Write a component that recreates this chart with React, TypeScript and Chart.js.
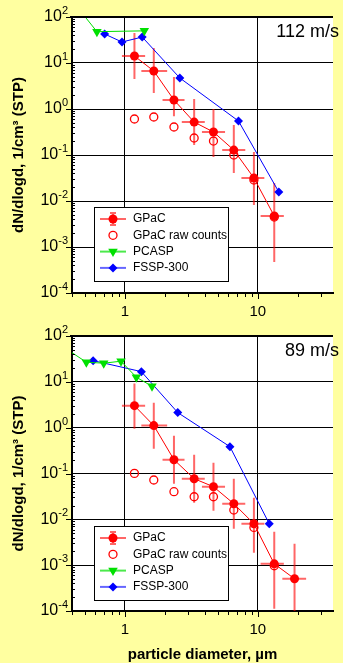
import React, { useEffect, useRef } from 'react';
import { Chart, registerables } from 'chart.js';

Chart.register(...registerables);

const FONT = "'Liberation Sans', Arial, Helvetica, sans-serif";
const BG = '#FFFFA0';
const RED = '#FF0000';
const GREEN = '#00E000';
const BLUE = '#0000FF';
const ERR = 'rgba(255,0,0,0.6)';

const speedLabels = ['112 m/s', '89 m/s'];
const legendLabels = ['GPaC', 'GPaC raw counts', 'PCASP', 'FSSP-300'];
const yAxisTitle = 'dN/dlogd, 1/cm³ (STP)';
const xAxisTitle = 'particle diameter, µm';
const xTickLabels = [1, 10];
const yDecades = [-4, -3, -2, -1, 0, 1, 2];

// ---------- panel 1 : 112 m/s ----------
const gpacD1 = [1.18, 1.65, 2.34, 3.32, 4.64, 6.6, 9.35, 13.3];
const gpacN1 = [14.2, 6.7, 1.57, 0.52, 0.316, 0.128, 0.0316, 0.00472];
const gpacHi1 = [44.9, 21.2, 4.96, 1.65, 1.0, 0.449, 0.116, 0.0246];
const gpacLo1 = [4.49, 2.23, 0.7, 0.165, 0.0905, 0.0406, 0.00818, 0.000472];
const gpacDLo1 = [0.95, 1.33, 1.92, 2.68, 3.8, 5.4, 7.53, 10.5];
const gpacDHi1 = [1.42, 2.08, 2.81, 3.99, 5.67, 8.05, 11.2, 15.7];
const rawD1 = [1.18, 1.65, 2.34, 3.32, 4.64, 6.6, 9.35, 13.3];
const rawN1 = [0.606, 0.67, 0.406, 0.234, 0.201, 0.1, 0.0286, 0.00449];
const pcaspD1 = [0.45, 0.616, 1.4];
const pcaspN1 = [150, 48, 50];
const fsspD1 = [0.704, 0.951, 1.35, 2.59, 7.16, 14.4];
const fsspN1 = [42.7, 28.6, 36.7, 4.72, 0.548, 0.0157];

// ---------- panel 2 : 89 m/s ----------
const gpacD2 = [1.18, 1.65, 2.34, 3.32, 4.64, 6.6, 9.35, 13.3, 18.9];
const gpacN2 = [3.02, 1.11, 0.2, 0.077, 0.0515, 0.0219, 0.008, 0.00107, 0.000505];
const gpacHi2 = [9.14, 3.51, 0.669, 0.257, 0.172, 0.077, 0.0296, 0.00536, 0.00293];
const gpacLo2 = [0.95, 0.348, 0.06, 0.023, 0.0154, 0.00624, 0.00187, 0.000112, 0.00008];
const gpacDLo2 = [0.95, 1.33, 1.92, 2.68, 3.8, 5.4, 7.53, 10.5, 15.3];
const gpacDHi2 = [1.42, 2.08, 2.81, 3.99, 5.67, 8.05, 11.2, 15.7, 23.1];
const rawD2 = [1.18, 1.65, 2.34, 3.32, 4.64, 6.6, 9.35, 13.3];
const rawN2 = [0.1005, 0.0721, 0.0401, 0.0311, 0.0311, 0.016, 0.00665, 0.00097];
const pcaspD2 = [0.35, 0.513, 0.693, 0.935, 1.22, 1.6];
const pcaspN2 = [56, 26.8, 25.5, 28.2, 12.6, 8.0];
const fsspD2 = [0.577, 1.33, 2.5, 6.17, 12.2];
const fsspN2 = [29.0, 16.7, 2.13, 0.385, 0.008];

interface Panel {
  key: string;
  speed: string;
  padTop: number;
  xAxisHeight: number;
  showXTitle: boolean;
  gD: number[]; gN: number[]; gHi: number[]; gLo: number[]; gDLo: number[]; gDHi: number[];
  rD: number[]; rN: number[];
  pD: number[]; pN: number[];
  fD: number[]; fN: number[];
}

const panel1: Panel = {
  key: 'p1', speed: speedLabels[0], padTop: 17, xAxisHeight: 27, showXTitle: false,
  gD: gpacD1, gN: gpacN1, gHi: gpacHi1, gLo: gpacLo1, gDLo: gpacDLo1, gDHi: gpacDHi1,
  rD: rawD1, rN: rawN1, pD: pcaspD1, pN: pcaspN1, fD: fsspD1, fN: fsspN1,
};
const panel2: Panel = {
  key: 'p2', speed: speedLabels[1], padTop: 16, xAxisHeight: 52, showXTitle: true,
  gD: gpacD2, gN: gpacN2, gHi: gpacHi2, gLo: gpacLo2, gDLo: gpacDLo2, gDHi: gpacDHi2,
  rD: rawD2, rN: rawN2, pD: pcaspD2, pN: pcaspN2, fD: fsspD2, fN: fsspN2,
};

function isDecade(v: number) {
  if (!(v > 0)) return false;
  const l = Math.log10(v);
  return Math.abs(l - Math.round(l)) < 1e-6;
}
function isIntMantissa(v: number) {
  if (!(v > 0)) return false;
  const e = Math.floor(Math.log10(v) + 1e-9);
  const m = v / Math.pow(10, e);
  return Math.abs(m - Math.round(m)) < 1e-6;
}
function pts(xs: number[], ys: number[]) {
  return xs.map((x, i) => ({ x, y: ys[i] }));
}

function decoPlugin(p: Panel) {
  return {
    id: 'deco' + p.key,
    beforeDraw(chart: any) {
      const { ctx, chartArea: a, width, height } = chart;
      ctx.save();
      ctx.fillStyle = BG;
      ctx.fillRect(0, 0, width, height);
      ctx.fillStyle = '#FFFFFF';
      ctx.fillRect(a.left, a.top, a.right - a.left, a.bottom - a.top);
      ctx.restore();
    },
    beforeDatasetsDraw(chart: any) {
      const { ctx, chartArea: a, scales } = chart;
      const xs = scales.x, ys = scales.y;
      ctx.save();
      ctx.beginPath();
      ctx.rect(a.left, a.top, a.right - a.left, a.bottom - a.top);
      ctx.clip();
      ctx.strokeStyle = ERR;
      ctx.lineWidth = 2;
      p.gD.forEach((d, i) => {
        const x = xs.getPixelForValue(d);
        const y = ys.getPixelForValue(p.gN[i]);
        ctx.beginPath();
        ctx.moveTo(x, ys.getPixelForValue(p.gHi[i]));
        ctx.lineTo(x, ys.getPixelForValue(p.gLo[i]));
        ctx.moveTo(xs.getPixelForValue(p.gDLo[i]), y);
        ctx.lineTo(xs.getPixelForValue(p.gDHi[i]), y);
        ctx.stroke();
      });
      ctx.restore();
    },
    afterDraw(chart: any) {
      const { ctx, chartArea: a, scales } = chart;
      const xs = scales.x, ys = scales.y;
      ctx.save();
      // tick marks
      ctx.strokeStyle = '#000';
      ctx.lineWidth = 1;
      ctx.beginPath();
      ys.ticks.forEach((t: any) => {
        const v = t.value;
        if (!isIntMantissa(v)) return;
        const py = Math.round(ys.getPixelForValue(v)) + 0.5;
        if (isDecade(v)) {
          ctx.moveTo(a.left - 6, py);
          ctx.lineTo(a.left, py);
        } else {
          ctx.moveTo(a.left, py);
          ctx.lineTo(a.left + 3, py);
        }
      });
      xs.ticks.forEach((t: any) => {
        const v = t.value;
        if (!isIntMantissa(v)) return;
        const px = Math.round(xs.getPixelForValue(v)) + 0.5;
        ctx.moveTo(px, a.bottom);
        ctx.lineTo(px, a.bottom + (isDecade(v) ? 6 : 4));
      });
      ctx.stroke();
      // top border
      ctx.lineWidth = 2;
      ctx.beginPath();
      ctx.moveTo(a.left - 2, a.top);
      ctx.lineTo(a.right, a.top);
      ctx.stroke();

      // y tick labels 10^k
      ctx.fillStyle = '#000';
      ctx.textAlign = 'right';
      ctx.textBaseline = 'middle';
      yDecades.forEach((k) => {
        const py = ys.getPixelForValue(Math.pow(10, k));
        const exp = String(k);
        ctx.font = `11px ${FONT}`;
        const ew = ctx.measureText(exp).width;
        ctx.fillText(exp, 68, py - 6);
        ctx.font = `16px ${FONT}`;
        ctx.fillText('10', 68 - ew, py);
      });

      // speed label
      ctx.font = `18px ${FONT}`;
      ctx.textAlign = 'right';
      ctx.fillText(p.speed, 339, a.top + 15);

      // legend
      const lx = 94, lw = 134, lh = 74, ly = a.top + 190;
      ctx.fillStyle = '#FFFFFF';
      ctx.fillRect(lx, ly, lw, lh);
      ctx.strokeStyle = '#000';
      ctx.lineWidth = 1;
      ctx.strokeRect(lx + 0.5, ly + 0.5, lw, lh);
      const sx = 113;
      legendLabels.forEach((lab, i) => {
        const ry = ly + 12 + i * 16.3;
        if (i === 0) {
          ctx.strokeStyle = ERR;
          ctx.lineWidth = 2;
          ctx.beginPath();
          ctx.moveTo(100, ry); ctx.lineTo(126, ry);
          ctx.moveTo(sx, ry - 6); ctx.lineTo(sx, ry + 6);
          ctx.moveTo(sx - 3, ry - 6); ctx.lineTo(sx + 3, ry - 6);
          ctx.moveTo(sx - 3, ry + 6); ctx.lineTo(sx + 3, ry + 6);
          ctx.stroke();
          ctx.fillStyle = RED;
          ctx.beginPath(); ctx.arc(sx, ry, 4.5, 0, Math.PI * 2); ctx.fill();
        } else if (i === 1) {
          ctx.strokeStyle = RED;
          ctx.lineWidth = 1.3;
          ctx.beginPath(); ctx.arc(sx, ry, 4, 0, Math.PI * 2); ctx.stroke();
        } else if (i === 2) {
          ctx.strokeStyle = 'rgba(0,224,0,0.7)';
          ctx.lineWidth = 2;
          ctx.beginPath(); ctx.moveTo(100, ry); ctx.lineTo(126, ry); ctx.stroke();
          const r = 5.5;
          ctx.fillStyle = GREEN;
          ctx.beginPath();
          ctx.moveTo(sx, ry + r);
          ctx.lineTo(sx - r * 0.866, ry - r / 2);
          ctx.lineTo(sx + r * 0.866, ry - r / 2);
          ctx.closePath();
          ctx.fill();
        } else {
          ctx.strokeStyle = 'rgba(0,0,255,0.6)';
          ctx.lineWidth = 2;
          ctx.beginPath(); ctx.moveTo(100, ry); ctx.lineTo(126, ry); ctx.stroke();
          const r = 4.5;
          ctx.fillStyle = BLUE;
          ctx.beginPath();
          ctx.moveTo(sx, ry - r); ctx.lineTo(sx + r, ry); ctx.lineTo(sx, ry + r); ctx.lineTo(sx - r, ry);
          ctx.closePath();
          ctx.fill();
        }
        ctx.fillStyle = '#000';
        ctx.font = `12px ${FONT}`;
        ctx.textAlign = 'left';
        ctx.textBaseline = 'middle';
        ctx.fillText(lab, 133, ry);
      });
      ctx.restore();
    },
  };
}

function gridColor(c: any) {
  return c.tick && isDecade(c.tick.value) ? '#000000' : 'rgba(0,0,0,0)';
}

function makeConfig(p: Panel): any {
  return {
    type: 'scatter',
    data: {
      datasets: [
        {
          label: legendLabels[0], data: pts(p.gD, p.gN), showLine: true,
          borderColor: RED, borderWidth: 1, pointRadius: 4.5,
          pointBackgroundColor: RED, pointBorderColor: RED, pointBorderWidth: 0,
          order: 0, clip: 0,
        },
        {
          label: legendLabels[1], data: pts(p.rD, p.rN), showLine: false,
          pointRadius: 4, pointBackgroundColor: 'rgba(0,0,0,0)', pointBorderColor: RED,
          pointBorderWidth: 1.3, order: 1, clip: 0,
        },
        {
          label: legendLabels[2], data: pts(p.pD, p.pN), showLine: true,
          borderColor: GREEN, borderWidth: 1, pointStyle: 'triangle', pointRotation: 180,
          pointRadius: 5.5, pointBackgroundColor: GREEN, pointBorderColor: GREEN,
          pointBorderWidth: 0, order: 2, clip: 0,
        },
        {
          label: legendLabels[3], data: pts(p.fD, p.fN), showLine: true,
          borderColor: BLUE, borderWidth: 1, pointStyle: 'rectRot', pointRadius: 4.5,
          pointBackgroundColor: BLUE, pointBorderColor: BLUE, pointBorderWidth: 0,
          order: 3, clip: 0,
        },
      ],
    },
    options: {
      animation: false,
      responsive: false,
      devicePixelRatio: 1,
      events: [],
      layout: { padding: { top: p.padTop, left: 0, right: 0, bottom: 0 } },
      plugins: { legend: { display: false }, tooltip: { enabled: false }, title: { display: false } },
      scales: {
        x: {
          type: 'logarithmic', position: 'bottom', min: 0.4, max: 36.8,
          afterFit: (s: any) => { s.height = p.xAxisHeight; },
          grid: { color: gridColor, lineWidth: 1, drawTicks: false },
          border: { display: true, color: '#000', width: 2 },
          ticks: {
            autoSkip: false, maxRotation: 0, minRotation: 0, padding: 10, color: '#000',
            font: { family: FONT, size: 15 },
            callback: (v: any) => {
              const n = Number(v);
              return xTickLabels.some((t) => Math.abs(t - n) < 1e-9) ? String(n) : '';
            },
          },
          title: {
            display: p.showXTitle, text: xAxisTitle, color: '#000',
            font: { family: FONT, size: 15, weight: 'bold', lineHeight: 1.07 },
            padding: { top: 0, bottom: 0 },
          },
        },
        y: {
          type: 'logarithmic', position: 'left', min: 1e-4, max: 100,
          afterFit: (s: any) => { s.width = 72; },
          grid: { color: gridColor, lineWidth: 1, drawTicks: false },
          border: { display: true, color: '#000', width: 2 },
          ticks: { display: false },
          title: {
            display: true, text: yAxisTitle, color: '#000',
            font: { family: FONT, size: 15, weight: 'bold' },
            padding: { top: 10, bottom: 0 },
          },
        },
      },
    },
    plugins: [decoPlugin(p)],
  };
}

export default function App() {
  const ref1 = useRef<HTMLCanvasElement>(null);
  const ref2 = useRef<HTMLCanvasElement>(null);
  useEffect(() => {
    document.body.style.margin = '0';
    document.body.style.background = BG;
    const c1 = new Chart(ref1.current as HTMLCanvasElement, makeConfig(panel1));
    const c2 = new Chart(ref2.current as HTMLCanvasElement, makeConfig(panel2));
    return () => {
      c1.destroy();
      c2.destroy();
    };
  }, []);
  return (
    <div style={{ width: 343, height: 663, background: BG, overflow: 'hidden' }}>
      <canvas ref={ref1} width={343} height={320} style={{ display: 'block', width: 343, height: 320 }} />
      <canvas ref={ref2} width={343} height={343} style={{ display: 'block', width: 343, height: 343 }} />
    </div>
  );
}
